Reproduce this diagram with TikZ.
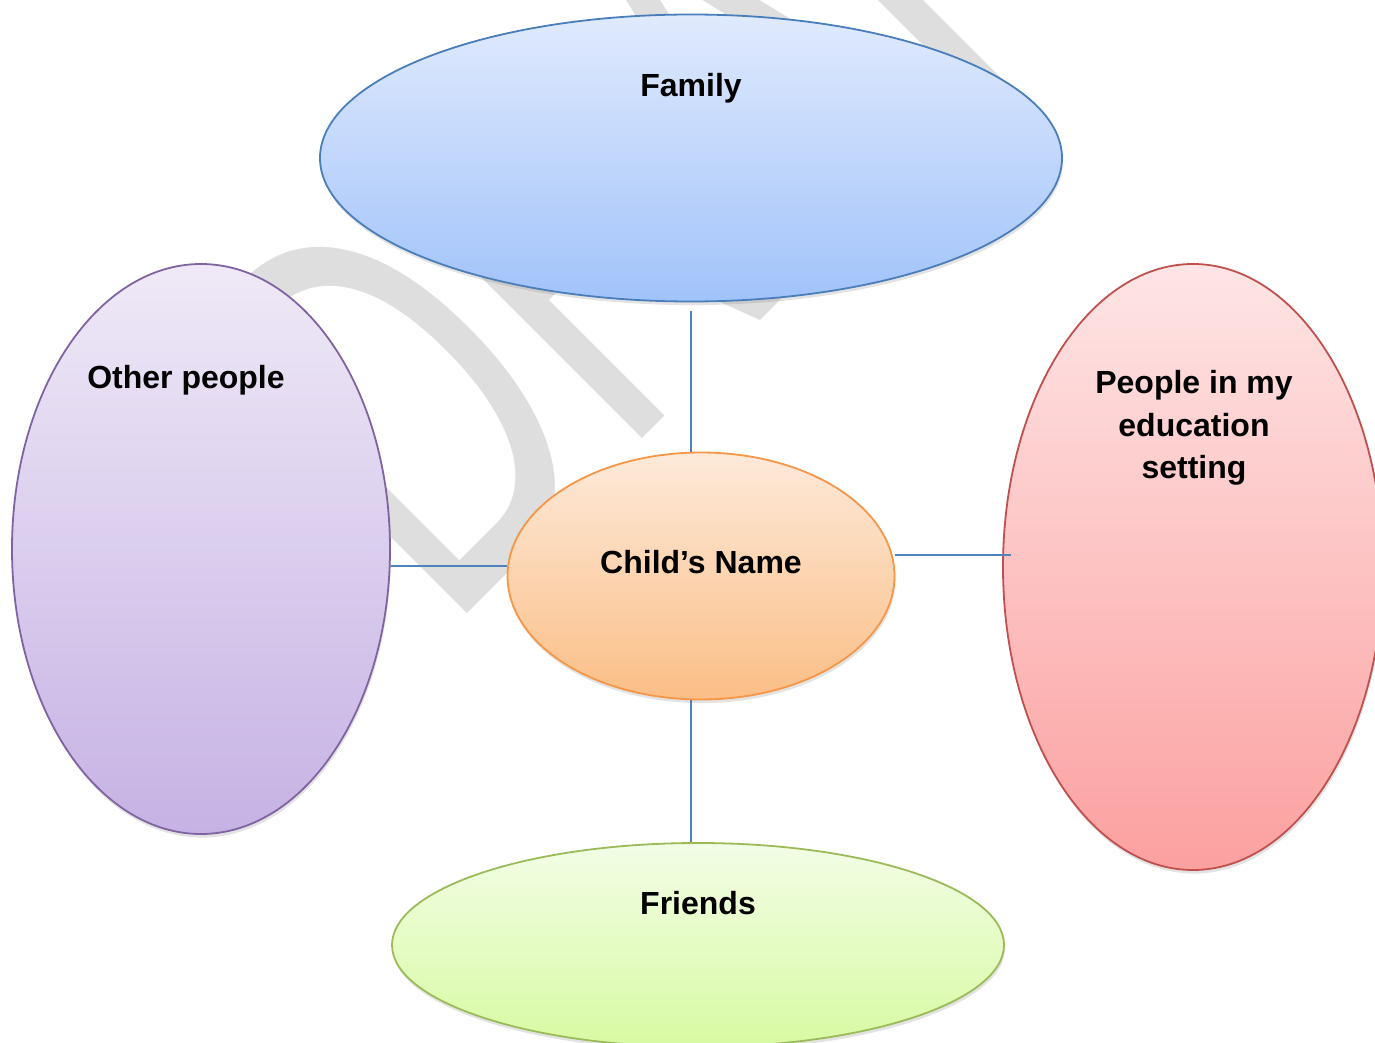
\documentclass[tikz,border=0pt]{standalone}
\usepackage{fontspec}
\setmainfont{Liberation Sans}
\usetikzlibrary{
	positioning
	,shapes.geometric
	,shadows
}
\definecolor{linkblue}{HTML}{4F81BD}
\definecolor{markgray}{HTML}{DEDEDE}
\definecolor{famtop}{RGB}{224,234,253}
\definecolor{fambot}{RGB}{161,195,250}
\definecolor{famline}{RGB}{74,126,187}
\definecolor{othtop}{RGB}{239,233,247}
\definecolor{othbot}{RGB}{198,178,228}
\definecolor{othline}{RGB}{128,100,162}
\definecolor{edutop}{RGB}{254,229,229}
\definecolor{edubot}{RGB}{252,160,160}
\definecolor{eduline}{RGB}{192,80,77}
\definecolor{kidtop}{RGB}{253,234,218}
\definecolor{kidbot}{RGB}{251,190,134}
\definecolor{kidline}{RGB}{247,150,70}
\definecolor{frtop}{RGB}{242,253,230}
\definecolor{frbot}{RGB}{216,250,162}
\definecolor{frline}{RGB}{155,187,89}
\tikzset{
	bubble/.style={
		ellipse
		,draw=#1line
		,line width=0.9pt
		,top color=#1top
		,bottom color=#1bot
		,inner sep=0pt
		,drop shadow={opacity=0.22, shadow xshift=0.5pt, shadow yshift=-1.8pt}
	}
	,caption/.style={
		font=\fontsize{16}{21.3}\selectfont\bfseries
		,align=center
		,inner sep=0pt
	}
	,link/.style={
		draw=linkblue
		,line width=0.8pt
	}
	,watermark/.style={
		font=\fontsize{286}{300}\selectfont
		,text=markgray
		,inner sep=0pt
	}
}
\begin{document}
\begin{tikzpicture}[x=0.5pt, y=-0.5pt]
\useasboundingbox (0,0) rectangle (1375,1043);
\clip (0,0) rectangle (1375,1043);
% watermark behind everything
\node[watermark, anchor=base west, rotate=45, xscale=0.6] (mark) at (447,634) {DRAFT};
% the five bubbles
\node[bubble=fam, minimum width=371pt, minimum height=143.5pt] (family) at (691,158) {};
\node[bubble=oth, minimum width=189pt, minimum height=285pt] (other) at (201,549) {};
\node[bubble=edu, minimum width=190pt, minimum height=303pt] (edu) at (1193,567) {};
\node[bubble=kid, minimum width=193.5pt, minimum height=123.5pt] (kid) at (701,576) {};
\node[bubble=fr, minimum width=306pt, minimum height=102pt] (friends) at (698,945) {};
% captions
\node[caption, anchor=base] (familytext) at (691,97) {Family};
\node[caption, anchor=base] (othertext) at (186,388) {Other people};
\node[caption, anchor=north] (edutext) at (1194,370) {People in my\\education\\setting};
\node[caption, anchor=base] (kidtext) at (701,573) {Child’s Name};
\node[caption, anchor=base] (friendstext) at (698,914) {Friends};
% connectors
\coordinate (eduport) at ([xshift=4.5pt, yshift=6pt]edu.west);
\draw[link] ([yshift=-4.5pt]family.south) -- (family.south |- kid.north);
\draw[link] (family.south |- kid.south) -- (family.south |- friends.north);
\draw[link] ([yshift=5pt]kid.west) -- ([yshift=5pt]kid.west -| other.east);
\draw[link] (kid.east |- eduport) -- (eduport);
\end{tikzpicture}
\end{document}
